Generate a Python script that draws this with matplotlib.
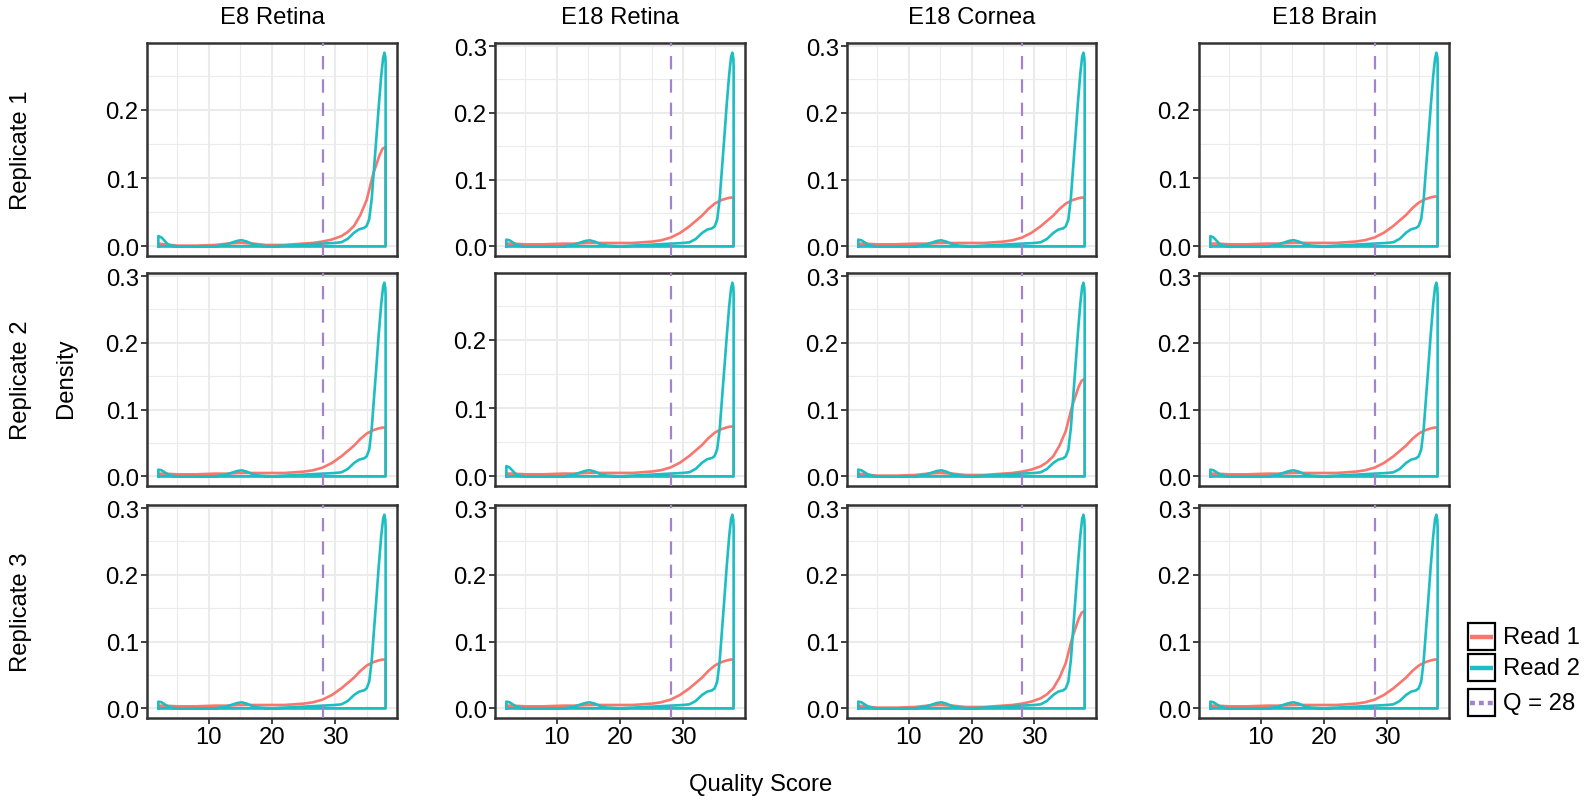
import numpy as np
import matplotlib
matplotlib.use("Agg")
import matplotlib.pyplot as plt
from matplotlib.patches import Rectangle

plt.rcParams["font.family"] = ["Liberation Sans", "DejaVu Sans"]

# facet labels
tissues = ["E8 Retina", "E18 Retina", "E18 Cornea", "E18 Brain"]
replicates = ["Replicate 1", "Replicate 2", "Replicate 3"]

# Read 1 density curves (two shapes seen in the panels)
read1_x = [2, 3, 5, 8, 11, 13, 15, 17, 19, 22, 25, 26.5, 28, 29.5, 31, 32, 33, 34, 35, 36, 37, 37.5, 38]
read1_high = [0.004, 0.003, 0.001, 0.001, 0.002, 0.004, 0.005, 0.004, 0.002, 0.002, 0.004, 0.005, 0.007,
              0.010, 0.015, 0.021, 0.030, 0.046, 0.068, 0.105, 0.133, 0.143, 0.146]
read1_low = [0.004, 0.004, 0.003, 0.003, 0.004, 0.004, 0.005, 0.005, 0.005, 0.005, 0.007, 0.009, 0.013,
             0.020, 0.030, 0.038, 0.046, 0.056, 0.064, 0.069, 0.072, 0.073, 0.073]

# Read 2 density curves
read2_x = [2, 2.5, 3, 3.5, 4, 5, 8, 11, 12.5, 13.5, 14.5, 15.2, 16, 17, 18, 20, 24, 28, 30, 31, 32, 33,
           33.8, 34.6, 35.0, 35.4, 35.8, 36.1, 36.5, 36.9, 37.3, 37.6, 37.8, 37.95, 38]
read2_tall = [0.010, 0.009, 0.006, 0.003, 0.001, 0.0, 0.0, 0.0, 0.002, 0.005, 0.008, 0.009, 0.007, 0.003,
              0.001, 0.0, 0.002, 0.004, 0.005, 0.006, 0.011, 0.020, 0.025, 0.027, 0.030, 0.040, 0.072,
              0.110, 0.160, 0.212, 0.258, 0.284, 0.290, 0.282, 0.270]
read2_short = [0.015, 0.013, 0.008, 0.003, 0.001, 0.0, 0.0, 0.0, 0.002, 0.005, 0.008, 0.009, 0.007, 0.003,
               0.001, 0.0, 0.002, 0.004, 0.005, 0.006, 0.011, 0.020, 0.025, 0.027, 0.030, 0.040, 0.070,
               0.107, 0.155, 0.204, 0.250, 0.276, 0.284, 0.278, 0.268]

# which curve each panel shows (rows = replicates, cols = tissues)
read1_panels = [["high", "low", "low", "low"],
                ["low", "low", "high", "low"],
                ["low", "low", "high", "low"]]
read2_panels = [["short", "tall", "tall", "short"],
                ["tall", "short", "tall", "tall"],
                ["tall", "tall", "tall", "tall"]]

q_cut = 28

read1_data = {"high": read1_high, "low": read1_low}
read2_data = {"tall": read2_tall, "short": read2_short}

RED = "#F8766D"
TEAL = "#1CBDC3"
PURPLE = "#A582CC"
DARK = "#333333"
FS = 17.2

W, H = 1590, 803
fig = plt.figure(figsize=(W / 100, H / 100), dpi=100)

col_px = [(147, 397), (495, 745), (847, 1096), (1199, 1449)]
row_px = [(44, 257), (274, 487), (506, 719)]


def rect(x0, x1, y0, y1):
    return [x0 / W, 1 - y1 / H, (x1 - x0) / W, (y1 - y0) / H]


def closed(xs, ys):
    # geom_density style outline: curve plus baseline
    px = [xs[0]] + list(xs) + [xs[-1], xs[0]]
    py = [0] + list(ys) + [0, 0]
    return px, py


for r, rep in enumerate(replicates):
    for c, tis in enumerate(tissues):
        ax = fig.add_axes(rect(*col_px[c], *row_px[r]))
        y1 = read1_data[read1_panels[r][c]]
        y2 = read2_data[read2_panels[r][c]]

        px, py = closed(read1_x, y1)
        ax.plot(px, py, color=RED, lw=1.9, solid_joinstyle="round", zorder=3)
        px, py = closed(read2_x, y2)
        ax.plot(px, py, color=TEAL, lw=1.9, solid_joinstyle="round", zorder=4)
        ax.axvline(q_cut, color=PURPLE, lw=1.6, ls=(0, (6, 4.5)), zorder=5)

        ymax = max(max(y1), max(y2))
        ax.set_xlim(0.2, 39.8)
        ax.set_ylim(-0.05 * ymax, 1.05 * ymax)

        ax.set_xticks([10, 20, 30])
        ax.set_xticks([5, 15, 25, 35], minor=True)
        yt = [v for v in [0, 0.1, 0.2, 0.3] if v <= 1.05 * ymax]
        ax.set_yticks(yt)
        ax.set_yticklabels([f"{v:.1f}" for v in yt])
        ax.set_yticks([v for v in [0.05, 0.15, 0.25] if v <= 1.05 * ymax], minor=True)

        ax.grid(which="major", color="#EBEBEB", lw=1.5)
        ax.grid(which="minor", color="#EBEBEB", lw=0.8)
        ax.set_axisbelow(True)
        ax.tick_params(which="minor", length=0)
        ax.tick_params(which="major", length=4, width=1.3, color=DARK, labelsize=FS,
                       labelcolor="black", pad=2)
        if r < 2:
            ax.tick_params(axis="x", length=0, labelbottom=False)
        for s in ax.spines.values():
            s.set_color(DARK)
            s.set_linewidth(1.8)

# facet strip texts
for c, tis in enumerate(tissues):
    cx = (col_px[c][0] + col_px[c][1]) / 2
    fig.text(cx / W, 1 - 18 / H, tis, ha="center", va="center", fontsize=FS)
for r, rep in enumerate(replicates):
    cy = (row_px[r][0] + row_px[r][1]) / 2
    fig.text(21 / W, 1 - cy / H, rep, ha="center", va="center", rotation=90, fontsize=FS)

fig.text(66 / W, 1 - 378 / H, "Density", ha="center", va="center", rotation=90, fontsize=FS)
fig.text(761 / W, 1 - 785 / H, "Quality Score", ha="center", va="center", fontsize=FS)

# legend
lax = fig.add_axes([0, 0, 1, 1])
lax.set_xlim(0, W)
lax.set_ylim(H, 0)
lax.axis("off")
legend_items = [("Read 1", RED, "-", 624), ("Read 2", TEAL, "-", 655), ("Q = 28", PURPLE, ":", 690)]
for label, col, style, top in legend_items:
    lax.add_patch(Rectangle((1468, top), 27, 27, facecolor="white", edgecolor="black", lw=1.6))
    ls = "-" if style == "-" else (0, (1.1, 0.9))
    lax.plot([1470, 1493], [top + 13.5, top + 13.5], color=col, lw=3.2, ls=ls, solid_capstyle="butt")
    lax.text(1503, top + 14, label, ha="left", va="center", fontsize=FS)

fig.savefig("out.png", dpi=100)
